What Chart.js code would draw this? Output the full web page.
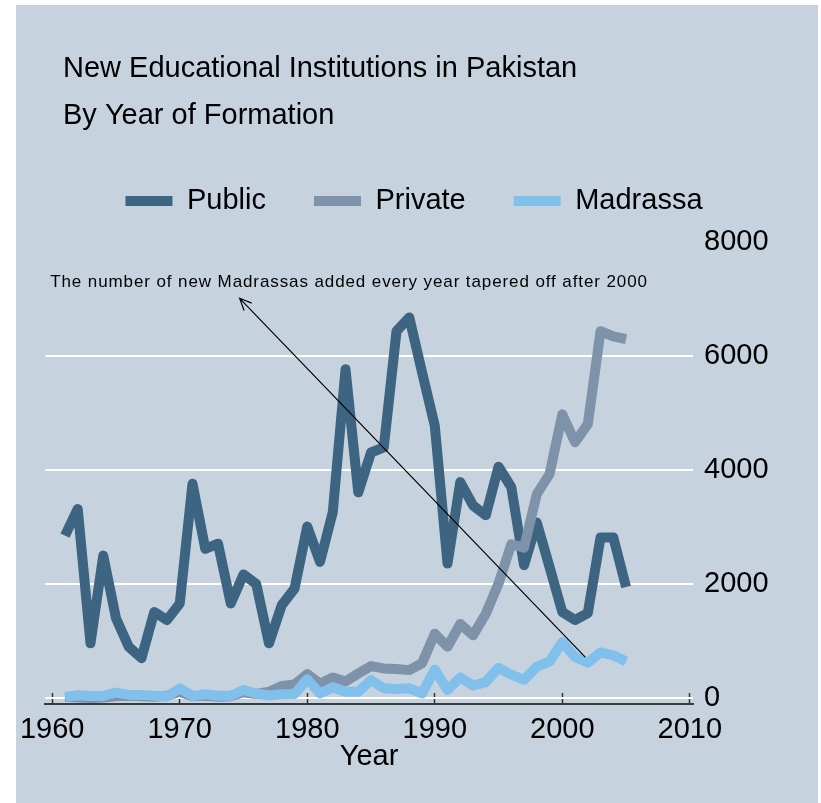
<!DOCTYPE html>
<html>
<head>
<meta charset="utf-8">
<title>New Educational Institutions in Pakistan</title>
<script src="https://cdn.jsdelivr.net/npm/chart.js@4.4.0/dist/chart.umd.min.js"></script>
<style>
  html, body { margin: 0; padding: 0; background: #fff; }
  canvas { display: block; }
</style>
</head>
<body>
<canvas id="grafica" width="821" height="803"></canvas>
<script>
// Data (new institutions per year of formation)
var years = [1961, 1962, 1963, 1964, 1965, 1966, 1967, 1968, 1969, 1970,
             1971, 1972, 1973, 1974, 1975, 1976, 1977, 1978, 1979, 1980,
             1981, 1982, 1983, 1984, 1985, 1986, 1987, 1988, 1989, 1990,
             1991, 1992, 1993, 1994, 1995, 1996, 1997, 1998, 1999, 2000,
             2001, 2002, 2003, 2004, 2005];
var publicSchools = [2850, 3320, 960, 2500, 1400, 900, 700, 1510, 1370, 1660,
                     3760, 2620, 2710, 1660, 2170, 2000, 960, 1630, 1920, 3010,
                     2390, 3260, 5770, 3610, 4310, 4400, 6440, 6680, 5720, 4780,
                     2360, 3790, 3380, 3210, 4060, 3700, 2330, 3080, 2300, 1510,
                     1370, 1490, 2820, 2820, 1950];
var privateSchools = [20, 10, 0, 10, 30, 40, 30, 20, 40, 110,
                      30, 40, 20, 30, 100, 70, 110, 210, 240, 420,
                      250, 360, 290, 430, 560, 520, 510, 490, 610, 1130,
                      900, 1300, 1100, 1480, 2010, 2700, 2640, 3580, 3930, 4980,
                      4490, 4810, 6440, 6350, 6300];
var madrassas = [20, 50, 35, 35, 95, 55, 55, 40, 25, 170,
                 35, 65, 40, 40, 140, 80, 45, 65, 70, 330,
                 80, 190, 110, 110, 315, 170, 160, 170, 80, 500,
                 140, 360, 220, 280, 530, 410, 320, 550, 640, 980,
                 720, 620, 800, 750, 640];
var seriesNames = ['Public', 'Private', 'Madrassa'];
var xTicks = [1960, 1970, 1980, 1990, 2000, 2010];
var yTicks = [0, 2000, 4000, 6000, 8000];
var titleLines = ['New Educational Institutions in Pakistan', 'By Year of Formation'];
var noteText = 'The number of new Madrassas added every year tapered off after 2000';
// note position and arrow ends, in data units
var notePos = [1959.84, 7209];
var arrowFrom = [2001.8, 717];
var arrowTo = [1974.7, 7017];

var fuente = '"Liberation Sans", Arial, sans-serif';

function puntos(valores) {
  return years.map(function (yr, i) { return { x: yr, y: valores[i] }; });
}

// background panel and the two-line title
var fondo = {
  id: 'fondo',
  beforeDraw: function (chart) {
    var ctx = chart.ctx;
    ctx.save();
    ctx.fillStyle = '#ffffff';
    ctx.fillRect(0, 0, chart.width, chart.height);
    ctx.fillStyle = '#c6d3df';
    ctx.fillRect(16, 5, 802, 798);
    ctx.fillStyle = '#000';
    ctx.font = '29px ' + fuente;
    ctx.textBaseline = 'alphabetic';
    ctx.textAlign = 'left';
    ctx.fillText(titleLines[0], 63, 77);
    ctx.fillText(titleLines[1], 63, 123.5);
    ctx.restore();
  }
};

// annotation text with arrow
var nota = {
  id: 'nota',
  afterDatasetsDraw: function (chart) {
    var ctx = chart.ctx, xs = chart.scales.x, ys = chart.scales.y;
    var x0 = xs.getPixelForValue(arrowFrom[0]), y0 = ys.getPixelForValue(arrowFrom[1]);
    var x1 = xs.getPixelForValue(arrowTo[0]), y1 = ys.getPixelForValue(arrowTo[1]);
    ctx.save();
    ctx.strokeStyle = '#000';
    ctx.lineWidth = 1.2;
    ctx.beginPath();
    ctx.moveTo(x0, y0);
    ctx.lineTo(x1, y1);
    var ang = Math.atan2(y1 - y0, x1 - x0);
    var len = 13;
    ctx.moveTo(x1 - len * Math.cos(ang - 0.42), y1 - len * Math.sin(ang - 0.42));
    ctx.lineTo(x1, y1);
    ctx.lineTo(x1 - len * Math.cos(ang + 0.42), y1 - len * Math.sin(ang + 0.42));
    ctx.stroke();

    ctx.fillStyle = '#000';
    ctx.font = '17px ' + fuente;
    ctx.letterSpacing = '0.9px';
    ctx.textBaseline = 'alphabetic';
    ctx.textAlign = 'left';
    ctx.fillText(noteText, xs.getPixelForValue(notePos[0]), ys.getPixelForValue(notePos[1]));
    ctx.restore();
  }
};

var ctx = document.getElementById('grafica').getContext('2d');
new Chart(ctx, {
  type: 'line',
  data: {
    datasets: [{
      label: seriesNames[0],
      data: puntos(publicSchools),
      borderColor: '#3d6480',
      backgroundColor: '#3d6480',
      order: 3
    }, {
      label: seriesNames[1],
      data: puntos(privateSchools),
      borderColor: '#7e93aa',
      backgroundColor: '#7e93aa',
      order: 2
    }, {
      label: seriesNames[2],
      data: puntos(madrassas),
      borderColor: '#80c0ea',
      backgroundColor: '#80c0ea',
      order: 1
    }]
  },
  options: {
    responsive: false,
    animation: false,
    events: [],
    layout: { padding: { top: 138.5, left: 43, right: 36, bottom: 29 } },
    elements: {
      line: { borderWidth: 10, tension: 0, fill: false, borderJoinStyle: 'round', borderCapStyle: 'butt' },
      point: { radius: 0 }
    },
    plugins: {
      tooltip: { enabled: false },
      // empty box used only as a gap between legend and plot
      title: { display: true, text: ' ', weight: 500, padding: 0, font: { size: 14, lineHeight: 1.2 } },
      legend: {
        position: 'top',
        align: 'center',
        labels: {
          boxWidth: 47,
          boxHeight: 10,
          padding: 48,
          color: '#000',
          font: { family: fuente, size: 29 },
          sort: function (a, b) { return a.datasetIndex - b.datasetIndex; },
          generateLabels: function (chart) {
            var items = Chart.defaults.plugins.legend.labels.generateLabels(chart);
            items.forEach(function (it) { it.lineWidth = 0; it.fillStyle = it.strokeStyle; });
            return items;
          }
        }
      }
    },
    scales: {
      x: {
        type: 'linear',
        min: 1959.45,
        max: 2010.25,
        afterBuildTicks: function (s) { s.ticks = xTicks.map(function (v) { return { value: v }; }); },
        afterFit: function (s) { s.height = 70; },
        grid: { drawOnChartArea: false, drawTicks: true, tickLength: -11, tickColor: '#333', tickWidth: 1.5 },
        border: { display: true, color: '#3a3a3a', width: 2 },
        ticks: {
          color: '#000',
          font: { family: fuente, size: 29 },
          padding: 19.5,
          maxRotation: 0,
          autoSkip: false,
          callback: function (v) { return String(v); }
        },
        title: { display: true, text: 'Year', color: '#000', font: { family: fuente, size: 29 }, padding: { top: 0, bottom: 0 } }
      },
      y: {
        position: 'right',
        min: -105,
        max: 8000,
        afterBuildTicks: function (s) { s.ticks = yTicks.map(function (v) { return { value: v }; }); },
        afterFit: function (s) { s.width = 92; },
        grid: {
          drawTicks: false,
          lineWidth: 2,
          color: function (c) { return c.tick && c.tick.value === 8000 ? 'rgba(0,0,0,0)' : '#ffffff'; }
        },
        border: { display: false },
        ticks: {
          color: '#000',
          padding: 11,
          font: { family: fuente, size: 29 },
          callback: function (v) { return String(v); }
        }
      }
    }
  },
  plugins: [fondo, nota]
});
</script>
</body>
</html>
